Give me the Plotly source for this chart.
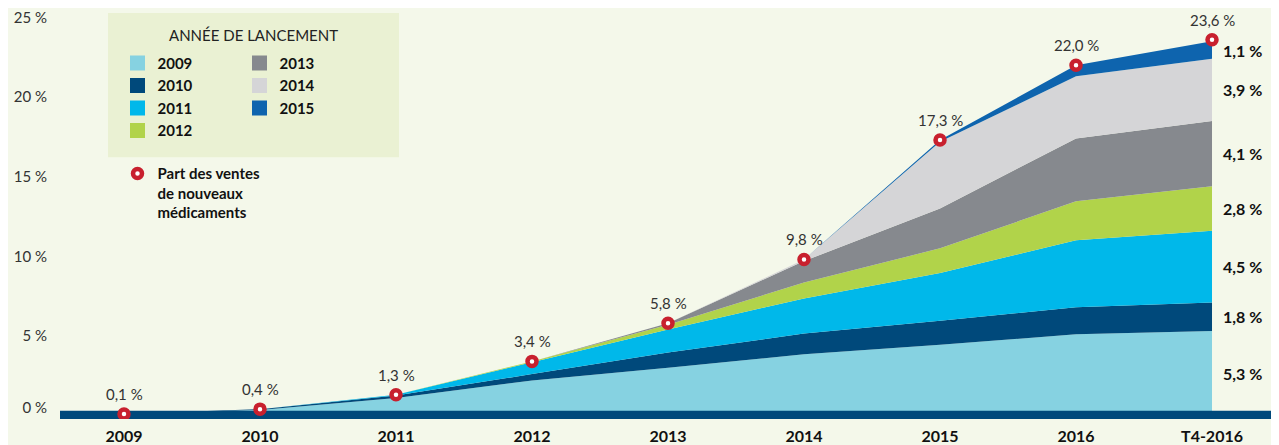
import plotly.graph_objects as go

# ---------------- data ----------------
categories = ["2009", "2010", "2011", "2012", "2013", "2014", "2015", "2016", "T4-2016"]
launch_years = ["2009", "2010", "2011", "2012", "2013", "2014", "2015"]

share_2009 = [0.10, 0.35, 1.10, 2.20, 3.00, 3.85, 4.45, 5.10, 5.30]
share_2010 = [0.00, 0.05, 0.15, 0.40, 0.95, 1.30, 1.50, 1.70, 1.80]
share_2011 = [0.00, 0.00, 0.05, 0.75, 1.45, 2.20, 3.00, 4.20, 4.50]
share_2012 = [0.00, 0.00, 0.00, 0.05, 0.30, 1.00, 1.55, 2.45, 2.80]
share_2013 = [0.00, 0.00, 0.00, 0.00, 0.10, 1.35, 2.50, 3.95, 4.10]
share_2014 = [0.00, 0.00, 0.00, 0.00, 0.00, 0.10, 4.20, 3.90, 3.90]
share_2015 = [0.00, 0.00, 0.00, 0.00, 0.00, 0.00, 0.10, 0.70, 1.10]

total_share = [0.1, 0.4, 1.3, 3.4, 5.8, 9.8, 17.3, 22.0, 23.6]
total_labels = ["0,1 %", "0,4 %", "1,3 %", "3,4 %", "5,8 %", "9,8 %", "17,3 %", "22,0 %", "23,6 %"]
last_labels = ["5,3 %", "1,8 %", "4,5 %", "2,8 %", "4,1 %", "3,9 %", "1,1 %"]

y_tick_values = [0, 5, 10, 15, 20, 25]
y_tick_labels = ["0 %", "5 %", "10 %", "15 %", "20 %", "25 %"]

series = [share_2009, share_2010, share_2011, share_2012, share_2013, share_2014, share_2015]
colors = ["#86d2e1", "#00497b", "#00b8ea", "#b1d34a", "#86898e", "#d5d5d7", "#0e64ae"]
RED = "#c8202e"
BG = "#f4f8ea"
BOX = "#eaf1d3"

# ---------------- geometry helpers (layout only) ----------------
OFF = 8                      # page body margin
W, H = 1279 - OFF, 445 - OFF
ML, MR, MT, MB = 60 - OFF, 0, 8 - OFF, 25
PW, PH = W - ML - MR, H - MT - MB


def fx(px):
    return (px - OFF - ML) / PW


def fy(py):
    return (H - MB - (py - OFF)) / PH


x_idx = list(range(len(categories)))
x_range = [-0.4706, 8.4926]
y_range = [-0.219, 25.531]

fig = go.Figure()

# stacked areas (subplot 1)
for name, vals, col in zip(launch_years, series, colors):
    fig.add_trace(go.Scatter(
        x=x_idx, y=vals, stackgroup="one", mode="none",
        fillcolor=col, line=dict(width=0, color=col),
        name=name, showlegend=False, hoverinfo="skip",
    ))

# legend swatches
for i, (name, col) in enumerate(zip(launch_years, colors)):
    fig.add_trace(go.Scatter(
        x=[None], y=[None], mode="markers",
        marker=dict(symbol="square", size=15, color=col),
        name=name, legend="legend" if i < 4 else "legend2",
        xaxis="x2", yaxis="y2",
    ))

# total share markers (subplot 2, above the base bar)
fig.add_trace(go.Scatter(
    x=x_idx, y=total_share, mode="markers",
    marker=dict(symbol="circle", size=9, color="white", line=dict(width=4.5, color=RED)),
    name="Part des ventes<br>de nouveaux<br>médicaments",
    legend="legend3", xaxis="x2", yaxis="y2", hoverinfo="skip",
))

annotations = []
for xi, v, t in zip(x_idx, total_share, total_labels):
    annotations.append(dict(
        x=xi, y=v, xref="x2", yref="y2", text=t, showarrow=False,
        yshift=20, font=dict(family="Lato", size=15, color="#333333"),
    ))

last = len(categories) - 1
cum = 0.0
for vals, t in zip(series, last_labels):
    mid = cum + vals[last] / 2
    cum += vals[last]
    annotations.append(dict(
        x=last, y=mid, xref="x2", yref="y2", text=t, showarrow=False,
        xanchor="left", xshift=9,
        font=dict(family="Lato", size=16, color="#111111", weight="bold"),
    ))

annotations.append(dict(
    x=fx(253.7), y=fy(34), xref="paper", yref="paper", text="ANNÉE DE LANCEMENT",
    showarrow=False, xanchor="center", yanchor="middle",
    font=dict(family="Lato", size=15, color="#222222"),
))

shapes = [
    dict(type="rect", xref="paper", yref="paper", x0=fx(108), x1=fx(399), y0=fy(157), y1=fy(12),
         fillcolor=BOX, line=dict(width=0), layer="below"),
    dict(type="rect", xref="x2", yref="y2", x0=x_range[0], x1=x_range[1], y0=y_range[0], y1=0.3,
         fillcolor="#00497b", line=dict(width=0), layer="below"),
]

legend_font = dict(family="Lato", size=15, color="#111111", weight="bold")
fig.update_layout(
    width=W, height=H,
    margin=dict(l=ML, r=MR, t=MT, b=MB, pad=0),
    paper_bgcolor=BG, plot_bgcolor="rgba(0,0,0,0)",
    xaxis=dict(range=x_range, tickvals=x_idx, ticktext=categories, showgrid=False,
               zeroline=False, showline=False, ticks="", ticklabelstandoff=6,
               tickfont=dict(family="Lato", size=16, color="#111111", weight="bold"),
               fixedrange=True),
    yaxis=dict(range=y_range, tickvals=[v if v else 0.5 for v in y_tick_values],
               ticktext=y_tick_labels, showgrid=False, zeroline=False, showline=False,
               ticks="", ticklabelstandoff=12, ticklabeloverflow="allow",
               tickfont=dict(family="Lato", size=15, color="#333333"), fixedrange=True),
    xaxis2=dict(range=x_range, visible=False, anchor="y2", domain=[0, 1], fixedrange=True),
    yaxis2=dict(range=y_range, visible=False, anchor="x2", domain=[0, 1], fixedrange=True),
    legend=dict(x=fx(117.5), y=fy(46), xanchor="left", yanchor="top", traceorder="normal",
                bgcolor="rgba(0,0,0,0)", font=legend_font, itemwidth=30, tracegroupgap=0),
    legend2=dict(x=fx(239.5), y=fy(46), xanchor="left", yanchor="top", traceorder="normal",
                 bgcolor="rgba(0,0,0,0)", font=legend_font, itemwidth=30, tracegroupgap=0),
    legend3=dict(x=fx(117.5), y=fy(157), xanchor="left", yanchor="top", valign="top",
                 bgcolor="rgba(0,0,0,0)", font=dict(family="Lato", size=15, color="#111111", weight="bold"),
                 itemwidth=30),
    annotations=annotations,
    shapes=shapes,
    showlegend=True,
)

fig.write_html("out.html")
